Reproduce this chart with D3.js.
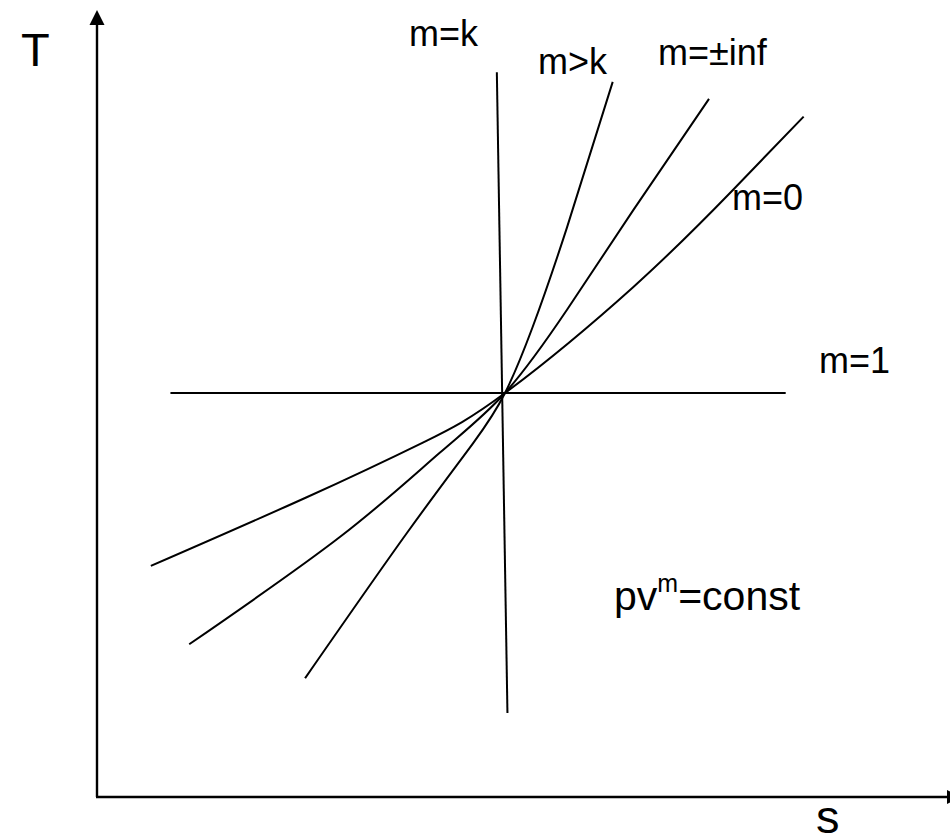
<!DOCTYPE html>
<html>
<head>
<meta charset="utf-8">
<script src="https://cdn.jsdelivr.net/npm/d3@7"></script>
<style>
  html, body { margin: 0; padding: 0; background: #fff; }
  svg { display: block; }
  text { font-family: "Liberation Sans", Arial, sans-serif; fill: #000; }
</style>
</head>
<body>
<svg id="chart" width="950" height="838"></svg>
<script>
// Polytropic processes on a T–s diagram, all passing through one common state.
// Values are in arbitrary (s, T) units.

// isothermal, m = 1
const isothermS = [0.9, 8.44];
const isothermT = [5.0, 5.0];

// isentropic, m = k (slightly tilted in the sketch)
const isentropeS = [4.90, 5.03];
const isentropeT = [8.97, 1.04];

// m > k
const mGreaterKS = [2.55, 3.80, 4.61, 5.0, 5.34, 5.76, 6.32];
const mGreaterKT = [1.47, 3.27, 4.38, 5.0, 5.82, 7.05, 8.85];

// isochoric, m = ±inf
const isochoreS = [1.13, 2.98, 4.20, 5.0, 5.76, 6.57, 7.50];
const isochoreT = [1.89, 3.22, 4.26, 5.0, 6.03, 7.26, 8.64];

// isobaric, m = 0
const isobarS = [0.66, 2.57, 4.00, 5.0, 6.57, 7.79, 8.66];
const isobarT = [2.86, 3.71, 4.39, 5.0, 6.31, 7.51, 8.42];

const curveLabels = ["m=k", "m>k", "m=±inf", "m=0", "m=1"];
const axisLabels = ["T", "s"];

const svg = d3.select("#chart");

const x = d3.scaleLinear().domain([0, 10]).range([97, 913]);
const y = d3.scaleLinear().domain([0, 10]).range([797, -11]);

const zip = (a, b) => a.map((v, i) => [v, b[i]]);

// axes with arrowheads
const axisG = svg.append("g").attr("stroke", "#000").attr("stroke-width", 2.4);
axisG.append("line")
  .attr("x1", x(0)).attr("y1", y(0))
  .attr("x2", x(0)).attr("y2", 22);
axisG.append("line")
  .attr("x1", x(0) - 1).attr("y1", y(0))
  .attr("x2", 950).attr("y2", y(0));
svg.append("path")
  .attr("d", `M${x(0)},10 L${x(0) - 7.5},25 L${x(0) + 7.5},25 Z`)
  .attr("fill", "#000");
svg.append("path")
  .attr("d", `M962,${y(0)} L947,${y(0) - 7} L947,${y(0) + 7} Z`)
  .attr("fill", "#000");

// straight processes
const straight = d3.line().x(d => x(d[0])).y(d => y(d[1]));
// curved processes, smooth spline through the read points
const curved = d3.line()
  .x(d => x(d[0]))
  .y(d => y(d[1]))
  .curve(d3.curveNatural);

const series = [
  { pts: zip(isothermS, isothermT), gen: straight },
  { pts: zip(isentropeS, isentropeT), gen: straight },
  { pts: zip(mGreaterKS, mGreaterKT), gen: curved },
  { pts: zip(isochoreS, isochoreT), gen: curved },
  { pts: zip(isobarS, isobarT), gen: curved }
];

svg.append("g")
  .selectAll("path")
  .data(series)
  .join("path")
  .attr("d", d => d.gen(d.pts))
  .attr("fill", "none")
  .attr("stroke", "#000")
  .attr("stroke-width", 2);

// curve labels
const labelPos = [
  [409, 46], [538, 74], [658, 65], [732, 210], [819, 373]
];
svg.append("g")
  .selectAll("text")
  .data(curveLabels)
  .join("text")
  .attr("x", (d, i) => labelPos[i][0])
  .attr("y", (d, i) => labelPos[i][1])
  .attr("font-size", 36)
  .text(d => d);

// axis labels
svg.append("text").attr("x", 21).attr("y", 66).attr("font-size", 47).text(axisLabels[0]);
svg.append("text").attr("x", 816).attr("y", 833).attr("font-size", 47).text(axisLabels[1]);

// process equation
const eq = svg.append("text").attr("x", 614).attr("y", 610).attr("font-size", 41);
eq.append("tspan").text("pv");
eq.append("tspan").attr("font-size", 25).attr("dy", -18).text("m");
eq.append("tspan").attr("dy", 18).text("=const");
</script>
</body>
</html>
